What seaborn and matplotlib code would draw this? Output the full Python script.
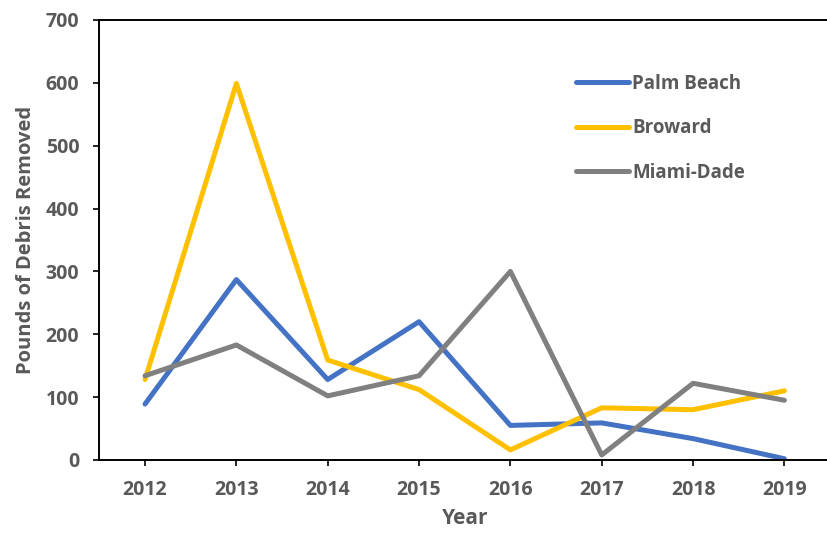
import pandas as pd
import seaborn as sns
import matplotlib.pyplot as plt

# values
years = ['2012', '2013', '2014', '2015', '2016', '2017', '2018', '2019']
palm_beach = [89, 287, 128, 220, 55, 59, 34, 2]
broward = [128, 599, 159, 112, 16, 83, 80, 110]
miami_dade = [134, 183, 102, 134, 300, 8, 122, 95]

counties = ['Palm Beach', 'Broward', 'Miami-Dade']
colors = ['#4472C4', '#FFC000', '#808080']

# long form table for seaborn
df = pd.DataFrame({'Year': years * 3,
                   'Pounds': palm_beach + broward + miami_dade,
                   'County': [c for c in counties for _ in years]})

sns.set_style('ticks')
plt.rcParams['font.family'] = ['Open Sans', 'DejaVu Sans']
text_col = '#595959'

fig = plt.figure(figsize=(8.28, 5.34), dpi=100)
ax = fig.add_axes([0.12, 0.1386, 0.8825, 0.824])

sns.lineplot(data=df, x='Year', y='Pounds', hue='County', hue_order=counties,
             palette=colors, linewidth=3.6, sort=False, ax=ax)

ax.set_xlim(-0.5, 7.5)
ax.set_ylim(0, 700)
ax.set_yticks(range(0, 701, 100))

for s in ax.spines.values():
    s.set_color('black')
    s.set_linewidth(1.4)
# right edge of the box falls off the picture in the reference
ax.spines['right'].set_visible(False)

ax.tick_params(axis='both', direction='out', length=4.5, width=1.2, color='black',
               labelsize=14, labelcolor=text_col, pad=10)
for lbl in ax.get_xticklabels() + ax.get_yticklabels():
    lbl.set_fontweight('bold')

# reference crops "Year" at the bottom edge; keep it just inside
ax.set_xlabel('Year', fontsize=15, fontweight='bold', color=text_col, labelpad=6)
ax.set_ylabel('Pounds of Debris Removed', fontsize=14.5, fontweight='bold', color=text_col, labelpad=7)

leg = ax.legend(loc='upper left', bbox_to_anchor=(0.6295, 0.916), frameon=False,
                handlelength=2.8, handletextpad=0.2, labelspacing=1.3,
                prop={'size': 13.5, 'weight': 'bold'})
for t in leg.get_texts():
    t.set_color(text_col)
for l in leg.get_lines():
    l.set_linewidth(3.6)

fig.savefig('out.png', dpi=100)
